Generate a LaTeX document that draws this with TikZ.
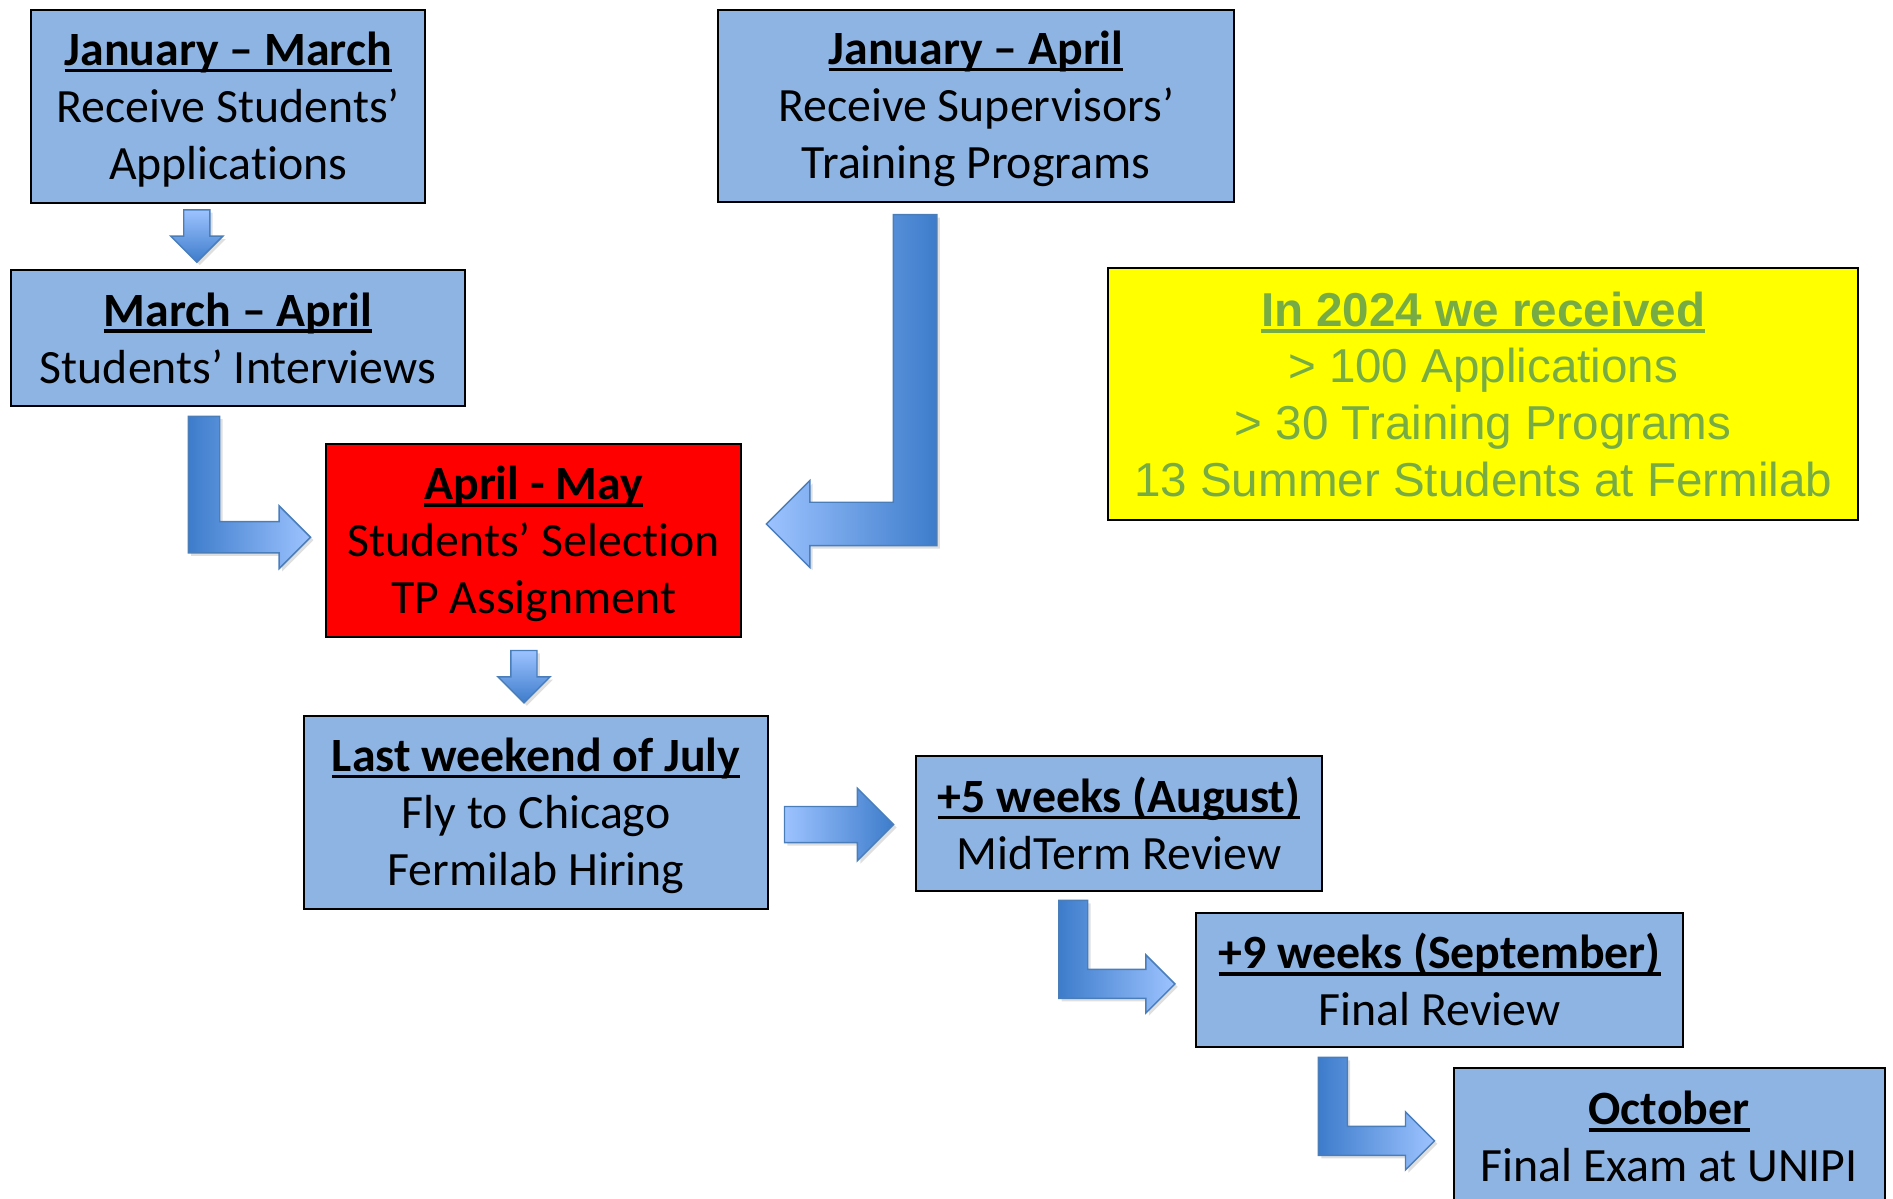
\documentclass[tikz,border=0pt]{standalone}
\usepackage{fontspec}
\setmainfont{Carlito}[Ligatures=NoCommon]
\newfontfamily\arialfont{Liberation Sans}
\usetikzlibrary{calc,shadows}

\definecolor{boxblue}{RGB}{142,180,227}
\definecolor{selred}{RGB}{255,0,0}
\definecolor{noteyellow}{RGB}{255,255,0}
\definecolor{notegreen}{RGB}{119,172,68}
\definecolor{arrowdark}{RGB}{61,124,203}
\definecolor{arrowlight}{RGB}{157,195,255}
\definecolor{arrowedge}{RGB}{74,126,187}

% thick underline for the box titles
\newcommand\titleline[1]{\setbox0=\hbox{#1}\rlap{\rule[-2.8pt]{\wd0}{1.5pt}}\box0}
% a little more room above three-line titles
\newcommand\topgap{\rule{0pt}{16.5pt}}

\tikzset{
  stage/.style={draw, line width=0.8pt, fill=boxblue, align=center, inner sep=0pt,
    font=\fontsize{19.8}{23.5}\selectfont},
  note/.style={draw, line width=0.8pt, fill=noteyellow, align=center, inner sep=0pt,
    text=notegreen, font=\arialfont\fontsize{19.7}{23.5}\selectfont},
  fatarrow/.style={draw=arrowedge, line width=0.6pt,
    drop shadow={opacity=0.25, shadow xshift=1.2pt, shadow yshift=-1.2pt}}
}

% straight block arrow pointing down: start, tip, half shaft width
\newcommand\downblock[3]{%
  \path[fatarrow, top color=arrowlight, bottom color=arrowdark]
    let \p1=(#1), \p2=(#2) in
    (\x1-#3,\y1) -- (\x1+#3,\y1) -- (\x1+#3,\y2+2*#3) -- (\x1+2*#3,\y2+2*#3)
    -- (\x1,\y2) -- (\x1-2*#3,\y2+2*#3) -- (\x1-#3,\y2+2*#3) -- cycle;}

% straight block arrow pointing right
\newcommand\rightblock[3]{%
  \path[fatarrow, left color=arrowlight, right color=arrowdark]
    let \p1=(#1), \p2=(#2) in
    (\x1,\y1+#3) -- (\x2-2*#3,\y1+#3) -- (\x2-2*#3,\y1+2*#3) -- (\x2,\y1)
    -- (\x2-2*#3,\y1-2*#3) -- (\x2-2*#3,\y1-#3) -- (\x1,\y1-#3) -- cycle;}

% bent block arrow: down, then sideways (#4 = 1 right, -1 left)
\newcommand\elbowblock[4]{%
  \ifnum#4>0 \tikzset{elbowshade/.style={left color=arrowdark, right color=arrowlight}}%
  \else \tikzset{elbowshade/.style={left color=arrowlight, right color=arrowdark}}\fi
  \path[fatarrow, elbowshade]
    let \p1=(#1), \p2=(#2), \n1={#4*#3}, \n2={#4*2*#3} in
    (\x1-\n1,\y1) -- (\x1+\n1,\y1) -- (\x1+\n1,\y2+#3)
    -- (\x2-\n2,\y2+#3) -- (\x2-\n2,\y2+2*#3) -- (\x2,\y2)
    -- (\x2-\n2,\y2-2*#3) -- (\x2-\n2,\y2-#3) -- (\x1-\n1,\y2-#3) -- cycle;}

\begin{document}
\begin{tikzpicture}[x=0.5pt, y=-0.5pt]
  \useasboundingbox (0,0) rectangle (1568,993);

  % calls and selection
  \node[stage, minimum width=163pt, minimum height=80pt] (apps) at (189,88)
    {\topgap\titleline{\textbf{January – March}}\\Receive Students’\\Applications};
  \node[stage, minimum width=188pt, minimum height=56pt] (interviews) at (197,280)
    {\titleline{\textbf{March – April}}\\Students’ Interviews};
  \node[stage, minimum width=213.5pt, minimum height=79.5pt] (programs) at (808.5,87.5)
    {\topgap\titleline{\textbf{January – April}}\\Receive Supervisors’\\Training Programs};
  \node[stage, fill=selred, minimum width=172pt, minimum height=80pt] (selection) at (442,448)
    {\topgap\titleline{\textbf{April - May}}\\Students’ Selection\\TP Assignment};

  % summer at Fermilab
  \node[stage, minimum width=192pt, minimum height=80pt] (travel) at (444,673)
    {\topgap\titleline{\textbf{Last weekend of July}}\\Fly to Chicago\\Fermilab Hiring};
  \node[stage, minimum width=168pt, minimum height=56pt] (midterm) at (927,682)
    {\titleline{\textbf{+5 weeks (August)}}\\MidTerm Review};
  \node[stage, minimum width=201.5pt, minimum height=55.5pt] (final) at (1192.5,811.5)
    {\titleline{\textbf{+9 weeks (September)}}\\Final Review};
  \node[stage, minimum width=178.5pt, minimum height=56.5pt] (exam) at (1382.5,941.5)
    {\titleline{\textbf{October}}\\Final Exam at UNIPI};

  % numbers box
  \node[note, minimum width=310.5pt, minimum height=104.5pt] (numbers) at (1228.5,326.5)
    {\titleline{\textbf{In 2024 we received}}\\> 100 Applications\\> 30 Training Programs\\13 Summer Students at Fermilab};

  % block arrows
  \downblock{$(apps.south)+(-26,5)$}{$(interviews.north)+(-34,-6)$}{5.4}
  \elbowblock{$(interviews.south)+(-28,8)$}{$(selection.west)+(-12,-3)$}{6.5}{1}
  \elbowblock{$(programs.south)+(-50.5,10)$}{$(selection.east)+(20,-14)$}{9}{-1}
  \downblock{$(selection.south)+(-8,10)$}{$(travel.north)+(-10,-10)$}{5.4}
  \rightblock{$(travel.east)+(13,10)$}{$(midterm.west)+(-18,1)$}{7.5}
  \elbowblock{$(midterm.south)+(-38,7)$}{$(final.west)+(-17,3.5)$}{6}{1}
  \elbowblock{$(final.south)+(-88.5,8)$}{$(exam.west)+(-15,3.5)$}{6}{1}
\end{tikzpicture}
\end{document}
